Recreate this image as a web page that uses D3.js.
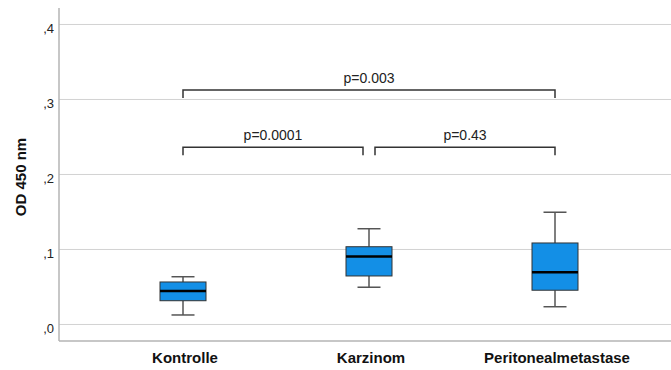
<!DOCTYPE html>
<html>
<head>
<meta charset="utf-8">
<script src="https://cdn.jsdelivr.net/npm/d3@7"></script>
<style>
  body { margin: 0; background: #fff; }
  svg { display: block; font-family: "Liberation Sans", Arial, sans-serif; }
</style>
</head>
<body>
<div id="plot"></div>
<script>
// categories and box statistics (OD 450 nm)
const categories = ["Kontrolle", "Karzinom", "Peritonealmetastase"];
const whiskerLow = [0.012, 0.049, 0.023];
const q1 = [0.031, 0.064, 0.045];
const median = [0.044, 0.090, 0.069];
const q3 = [0.056, 0.103, 0.108];
const whiskerHigh = [0.063, 0.127, 0.149];

// y axis ticks
const yTicks = [0, 0.1, 0.2, 0.3, 0.4];
const yTickLabels = [",0", ",1", ",2", ",3", ",4"];

// significance brackets
const compFrom = ["Kontrolle", "Kontrolle", "Karzinom"];
const compTo = ["Peritonealmetastase", "Karzinom", "Peritonealmetastase"];
const compLevel = [0.312, 0.2355, 0.2355];
const compLabel = ["p=0.003", "p=0.0001", "p=0.43"];

const W = 671, H = 370;
const margin = { top: 8, right: 0, bottom: 29, left: 59 };
const width = W - margin.left - margin.right,
      height = H - margin.top - margin.bottom;

const svg = d3.select('#plot').append('svg')
    .attr('width', W)
    .attr('height', H);

const g = svg.append('g')
    .attr('transform', 'translate(' + margin.left + ',' + margin.top + ')');

const y = d3.scaleLinear().domain([-0.0227, 0.4213]).range([height, 0]);
const x = d3.scalePoint().domain(categories).range([124, 496]);

// gridlines
g.append('g')
    .call(d3.axisLeft(y).tickValues(yTicks).tickSize(-width).tickFormat(''))
    .call(s => s.select('.domain').remove())
    .selectAll('line').attr('stroke', '#d2d2d2').attr('stroke-width', 1);

// y axis labels
g.selectAll('.ytick').data(yTicks).enter().append('text')
    .attr('x', -5)
    .attr('y', d => y(d) + 9)
    .attr('text-anchor', 'end')
    .attr('font-size', 13)
    .attr('fill', '#222')
    .text((d, i) => yTickLabels[i]);

// axis lines
g.append('line').attr('x1', 0).attr('x2', 0).attr('y1', 0).attr('y2', height)
    .attr('stroke', '#b4b4b4').attr('stroke-width', 1.5);
g.append('line').attr('x1', 0).attr('x2', width).attr('y1', height).attr('y2', height)
    .attr('stroke', '#b4b4b4').attr('stroke-width', 1.5);

// y title
svg.append('text')
    .attr('transform', 'translate(26,177) rotate(-90)')
    .attr('text-anchor', 'middle')
    .attr('font-size', 15)
    .attr('font-weight', 'bold')
    .attr('fill', '#111')
    .text('OD 450 nm');

// category labels
g.selectAll('.xlab').data(categories).enter().append('text')
    .attr('x', d => x(d) + 2)
    .attr('y', height + 22)
    .attr('text-anchor', 'middle')
    .attr('font-size', 15)
    .attr('font-weight', 'bold')
    .attr('fill', '#111')
    .text(d => d);

// boxes
const boxW = 46, capW = 23;
const boxes = g.selectAll('.box').data(categories).enter().append('g')
    .attr('transform', d => 'translate(' + x(d) + ',0)');

boxes.append('line')
    .attr('y1', (d, i) => y(whiskerHigh[i])).attr('y2', (d, i) => y(q3[i]))
    .attr('stroke', '#555').attr('stroke-width', 1.5);
boxes.append('line')
    .attr('y1', (d, i) => y(q1[i])).attr('y2', (d, i) => y(whiskerLow[i]))
    .attr('stroke', '#555').attr('stroke-width', 1.5);
boxes.append('line')
    .attr('x1', -capW / 2).attr('x2', capW / 2)
    .attr('y1', (d, i) => y(whiskerHigh[i])).attr('y2', (d, i) => y(whiskerHigh[i]))
    .attr('stroke', '#555').attr('stroke-width', 1.5);
boxes.append('line')
    .attr('x1', -capW / 2).attr('x2', capW / 2)
    .attr('y1', (d, i) => y(whiskerLow[i])).attr('y2', (d, i) => y(whiskerLow[i]))
    .attr('stroke', '#555').attr('stroke-width', 1.5);
boxes.append('rect')
    .attr('x', -boxW / 2).attr('width', boxW)
    .attr('y', (d, i) => y(q3[i]))
    .attr('height', (d, i) => y(q1[i]) - y(q3[i]))
    .attr('fill', '#138fe6')
    .attr('stroke', '#333').attr('stroke-width', 1);
boxes.append('line')
    .attr('x1', -boxW / 2).attr('x2', boxW / 2)
    .attr('y1', (d, i) => y(median[i])).attr('y2', (d, i) => y(median[i]))
    .attr('stroke', '#000').attr('stroke-width', 2.5);

// brackets
const gap = 6, tickLen = 8;
compLabel.forEach((lab, i) => {
    const shared = (c, lvl, k) => compLevel.some((l, j) => j !== k && l === lvl &&
        (compFrom[j] === c || compTo[j] === c));
    const x1 = x(compFrom[i]) + (shared(compFrom[i], compLevel[i], i) ? gap : 0);
    const x2 = x(compTo[i]) - (shared(compTo[i], compLevel[i], i) ? gap : 0);
    const yy = y(compLevel[i]);
    g.append('path')
        .attr('d', 'M' + x1 + ',' + (yy + tickLen) + 'V' + yy + 'H' + x2 + 'V' + (yy + tickLen))
        .attr('fill', 'none').attr('stroke', '#333').attr('stroke-width', 1.5);
    g.append('text')
        .attr('x', (x1 + x2) / 2)
        .attr('y', yy - 7)
        .attr('text-anchor', 'middle')
        .attr('font-size', 14)
        .attr('fill', '#222')
        .text(lab);
});
</script>
</body>
</html>
